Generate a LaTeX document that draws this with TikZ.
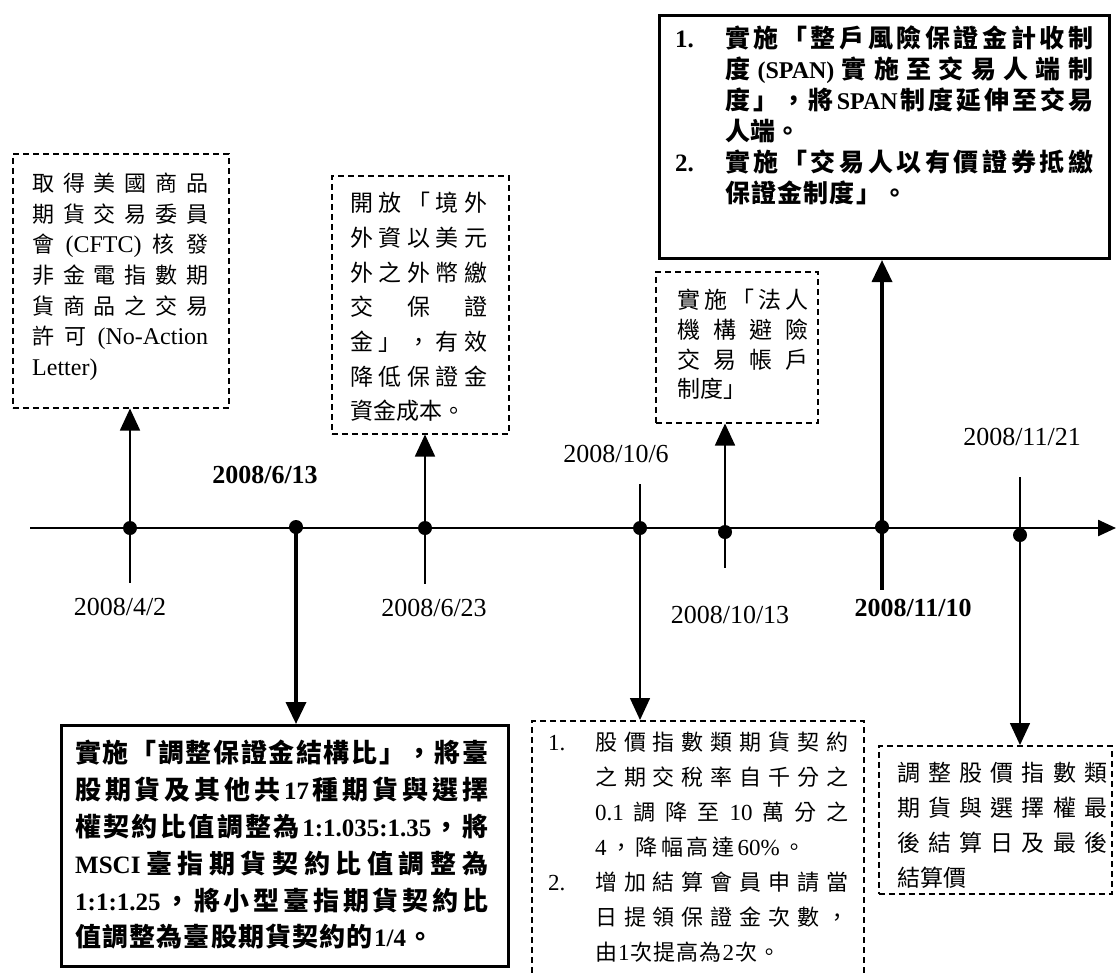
\documentclass[tikz,border=0pt]{standalone}
\usepackage{fontspec}
\setmainfont{Noto Sans CJK TC}
\newfontfamily\lat{Liberation Serif}
\usetikzlibrary{arrows.meta}
\makeatletter
\def\spr@mark{}
\def\spr@end{\spr@mark}
\def\spr@first#1{{#1}\spr@next}
\def\spr@next#1{\def\spr@tmp{#1}\ifx\spr@tmp\spr@end\else\hfil{#1}\expandafter\spr@next\fi}
\newcommand\sline[2]{\hbox to #1{\spr@first#2\spr@mark}}
\makeatother
\newcommand\lt[2]{{\lat\fontsize{#1pt}{#1pt}\selectfont #2}}
\begin{document}
\begin{tikzpicture}[x=1pt,y=-1pt,
  dbox/.style={draw, line width=1.5pt, dash pattern=on 6pt off 4pt, inner sep=0pt, anchor=north west},
  sbox/.style={draw, line width=3pt, inner sep=0pt, anchor=north west},
  txt/.style={inner sep=0pt, anchor=base west},
  dot/.style={circle, fill, inner sep=0pt, minimum size=14pt},
  thinln/.style={line width=1.6pt},
  thickln/.style={line width=3.5pt},
  tip/.style={-{Triangle[width=20pt,length=22pt]}},
  date/.style={inner sep=0pt, font=\lat\fontsize{26pt}{30pt}\selectfont},
  bdate/.style={inner sep=0pt, font=\lat\bfseries\fontsize{26pt}{30pt}\selectfont},
]
\useasboundingbox (0,0) rectangle (1116,972);

% boxes
\node[dbox, minimum width=216pt, minimum height=254pt] (b1) at (12,153) {};
\node[dbox, minimum width=177pt, minimum height=258pt] (b3) at (331,175) {};
\node[dbox, minimum width=162pt, minimum height=151pt] (b5) at (655,271) {};
\node[sbox, minimum width=450pt, minimum height=243pt] (b6) at (658,14) {};
\node[sbox, minimum width=447pt, minimum height=241pt] (b2) at (60,724) {};
\node[dbox, minimum width=332pt, minimum height=290pt] (b4) at (531,720) {};
\node[dbox, minimum width=233pt, minimum height=148pt] (b7) at (878,745) {};

% box texts
\node[txt, font=\fontsize{22pt}{30.7pt}\selectfont] (t1) at (32,191.4) {\vtop{%
\sline{176pt}{取得美國商品}
\sline{176pt}{期貨交易委員}
\sline{176pt}{會{\lt{24}{(CFTC)}}核發}
\sline{176pt}{非金電指數期}
\sline{176pt}{貨商品之交易}
\sline{176pt}{許可{\lt{24}{(No-Action}}}
\hbox{\lt{24}{Letter)}}}};

\node[txt, font=\fontsize{23pt}{34.7pt}\selectfont] (t3) at (350,211.7) {\vtop{%
\sline{137pt}{開放「境外}
\sline{137pt}{外資以美元}
\sline{137pt}{外之外幣繳}
\sline{137pt}{交保證}
\sline{137pt}{金」，有效}
\sline{137pt}{降低保證金}
\hbox{資金成本。}}};

\node[txt, font=\fontsize{23pt}{29.7pt}\selectfont] (t5) at (677,308.7) {\vtop{%
\sline{131pt}{實施「法人}
\sline{131pt}{機構避險}
\sline{131pt}{交易帳戶}
\hbox{制度」}}};

\node[txt, font=\fontsize{25pt}{31pt}\selectfont\bfseries] (t6) at (675,47.5) {\vtop{%
\hbox{\hbox to 50pt{\lt{25}{1.}\hfil}\sline{368pt}{實施「整戶風險保證金計收制}}
\hbox{\hskip50pt\sline{368pt}{度{\lt{24}{(SPAN)}}實施至交易人端制}}
\hbox{\hskip50pt\sline{368pt}{度」，將{\lt{24}{SPAN}}制度延伸至交易}}
\hbox{\hskip50pt 人端。}
\hbox{\hbox to 50pt{\lt{25}{2.}\hfil}\sline{368pt}{實施「交易人以有價證券抵繳}}
\hbox{\hskip50pt\sline{182pt}{保證金制度」。}}}};

\node[txt, font=\fontsize{26pt}{36.8pt}\selectfont\bfseries] (t2) at (75,762.9) {\vtop{%
\sline{413pt}{實施「調整保證金結構比」，將臺}
\sline{413pt}{股期貨及其他共{\lt{25}{17}}種期貨與選擇}
\sline{413pt}{權契約比值調整為{\lt{25}{1:1.035:1.35}}，將}
\sline{413pt}{{\lt{25}{MSCI}}臺指期貨契約比值調整為}
\sline{413pt}{{\lt{25}{1:1:1.25}}，將小型臺指期貨契約比}
\sline{358pt}{值調整為臺股期貨契約的{\lt{25}{1/4}}。}}};

\node[txt, font=\fontsize{22pt}{35pt}\selectfont] (t4) at (548,750.4) {\vtop{%
\hbox{\hbox to 47pt{\lt{23}{1.}\hfil}\sline{253pt}{股價指數類期貨契約}}
\hbox{\hskip47pt\sline{253pt}{之期交稅率自千分之}}
\hbox{\hskip47pt\sline{253pt}{{\lt{23}{0.1}}調降至{\lt{23}{10}}萬分之}}
\hbox{\hskip47pt\sline{210pt}{{\lt{23}{4}}，降幅高達{\lt{23}{60\%}}。}}
\hbox{\hbox to 47pt{\lt{23}{2.}\hfil}\sline{253pt}{增加結算會員申請當}}
\hbox{\hskip47pt\sline{253pt}{日提領保證金次數，}}
\hbox{\hskip47pt\sline{185pt}{由{\lt{23}{1}}次提高為{\lt{23}{2}}次。}}}};

\node[txt, font=\fontsize{23pt}{35pt}\selectfont] (t7) at (897,781.7) {\vtop{%
\sline{210pt}{調整股價指數類}
\sline{210pt}{期貨與選擇權最}
\sline{210pt}{後結算日及最後}
\hbox{結算價}}};

% timeline
\coordinate (ts) at (30,528);
\coordinate (te) at (1116,528);
\draw[line width=2.5pt, -{Triangle[width=16pt,length=18pt]}] (ts) -- (te);

% dots
\node[dot] (d1) at (130,528) {};
\node[dot] (d2) at (296,527) {};
\node[dot] (d3) at (425,528) {};
\node[dot] (d4) at (640,528) {};
\node[dot] (d5) at (725,532) {};
\node[dot] (d6) at (882,527) {};
\node[dot] (d7) at (1020,535) {};

% connector ends
\coordinate (e1) at (130,583);
\coordinate (e3) at (425,584);
\coordinate (e4) at (640,484);
\coordinate (e5) at (725,568);
\coordinate (e6) at (882,590);
\coordinate (e7) at (1020,477);

\draw[thinln] (d1.center) -- (e1);
\draw[thinln,tip] (d1.center) -- (b1.south -| d1);
\draw[thickln,tip] (d2.center) -- (b2.north -| d2);
\draw[thinln] (d3.center) -- (e3);
\draw[thinln,tip] (d3.center) -- (b3.south -| d3);
\draw[thinln] (e4) -- (d4.center);
\draw[thinln,tip] (d4.center) -- (b4.north -| d4);
\draw[thinln] (d5.center) -- (e5);
\draw[thinln,tip] (d5.center) -- (b5.south -| d5);
\draw[thickln] (d6.center) -- (e6);
\draw[thickln,tip] (d6.center) -- (b6.south -| d6);
\draw[thinln,tip] (e7) -- (b7.north -| d7);

% dates
\node[date] (l1) at (120,607) {2008/4/2};
\node[bdate] (l2) at (265,475) {2008/6/13};
\node[date] (l3) at (434,608) {2008/6/23};
\node[date] (l4) at (616,454) {2008/10/6};
\node[date] (l5) at (730,615) {2008/10/13};
\node[bdate] (l6) at (913,608) {2008/11/10};
\node[date] (l7) at (1022,437) {2008/11/21};
\end{tikzpicture}
\end{document}
